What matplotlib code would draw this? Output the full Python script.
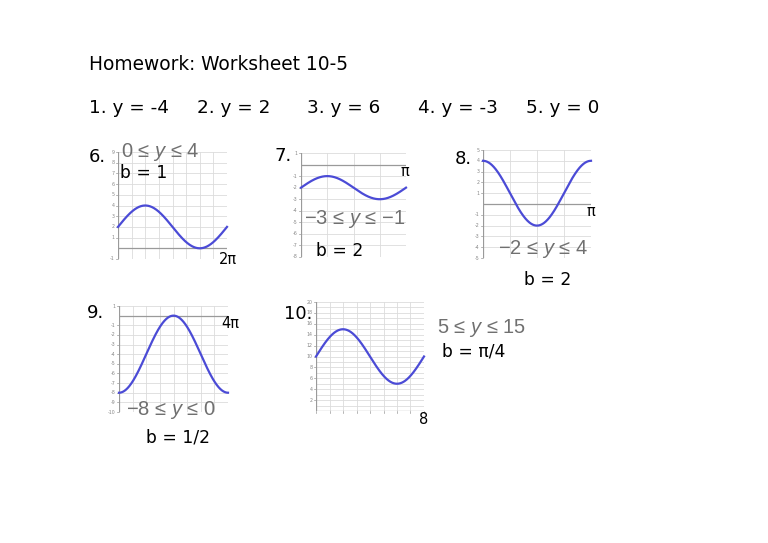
import numpy as np
import matplotlib
matplotlib.use('Agg')
import matplotlib.pyplot as plt

plt.rcParams['mathtext.fontset'] = 'custom'
plt.rcParams['mathtext.it'] = 'Liberation Sans:italic'
plt.rcParams['mathtext.rm'] = 'Liberation Sans'

# ---- data ----
title = "Homework: Worksheet 10-5"
answers = ["1. y = -4", "2. y = 2", "3. y = 6", "4. y = -3", "5. y = 0"]
answer_x = [89, 197, 307, 418, 526]

problems = ["6.", "7.", "8.", "9.", "10."]
y_min_vals = [0, -3, -2, -8, 5]
y_max_vals = [4, -1, 4, 0, 15]
b_vals = [1, 2, 2, 0.5, np.pi / 4]
wave_kind = ["sin", "sin", "cos", "-cos", "sin"]
x_end = [2 * np.pi, np.pi, np.pi, 4 * np.pi, 8]
x_end_labels = ["2π", "π", "π", "4π", "8"]
x_divisions = [8, 4, 4, 8, 8]
y_limits = [(-1, 9), (-8, 1), (-5, 5), (-10, 1), (0, 20)]
y_label_step = [1, 1, 1, 1, 2]
range_labels = ["0 ≤ $y$ ≤ 4", "−3 ≤ $y$ ≤ −1", "−2 ≤ $y$ ≤ 4",
                "−8 ≤ $y$ ≤ 0", "5 ≤ $y$ ≤ 15"]
b_labels = ["b = 1", "b = 2", "b = 2", "b = 1/2", "b = π/4"]

# ---- layout (pixels) ----
W, H = 768, 543
axes_px = [(118, 227, 152, 259), (301, 406, 153, 257), (483, 591, 150, 258),
           (119, 228, 306, 412), (316, 424, 302, 411)]
num_pos = [(89, 157), (274, 156), (455, 159), (87, 313), (284, 314)]
range_pos = [(121, 152), (304, 219), (498, 249), (126, 410), (437, 328)]
b_pos = [(120, 173), (316, 251), (524, 280), (146, 437), (442, 352)]
xend_pos = [(228, 260), (405, 171), (591, 212), (230, 324), (424, 419)]

fig = plt.figure(figsize=(7.68, 5.43), dpi=100)
fig.patch.set_facecolor('white')

def fx(x):
    return x / W

def fy(y):
    return 1 - y / H

TXT = 'DejaVu Sans'
fig.text(fx(89), fy(65), title, fontsize=13.4, family=TXT, va='center', ha='left')
for a, x in zip(answers, answer_x):
    fig.text(fx(x), fy(108), a, fontsize=13.2, family=TXT, va='center', ha='left')

curve_color = '#4b4bd6'
grid_color = '#dcdcdc'
axis_color = '#9a9a9a'

for i in range(5):
    x0, x1, yt, yb = axes_px[i]
    ax = fig.add_axes([fx(x0), fy(yb), (x1 - x0) / W, (yb - yt) / H])
    ax.set_xlim(0, x_end[i])
    lo, hi = y_limits[i]
    ax.set_ylim(lo, hi)
    for s in ax.spines.values():
        s.set_visible(False)
    ax.set_xticks([])
    ax.set_yticks([])
    # grid
    for k in range(x_divisions[i] + 1):
        ax.axvline(x_end[i] * k / x_divisions[i], color=grid_color, lw=0.6, zorder=1)
    for v in range(lo, hi + 1):
        ax.axhline(v, color=grid_color, lw=0.6, zorder=1)
    # axes
    ax.axhline(0, color=axis_color, lw=0.9, zorder=2)
    ax.axvline(0, color=axis_color, lw=0.9, zorder=2)
    # y tick labels
    for v in range(lo, hi + 1):
        if v == 0 or v % y_label_step[i] != 0:
            continue
        ax.plot([-x_end[i] * 0.02, 0], [v, v], color=axis_color, lw=0.5, clip_on=False)
        ax.text(-x_end[i] * 0.03, v, str(v), fontsize=3.4,
                color='#888888', ha='right', va='center', clip_on=False)
    if i == 4:
        for k in range(x_divisions[i] + 1):
            ax.plot([k, k], [0, -0.4], color=axis_color, lw=0.5, clip_on=False)
    # curve
    mid = (y_min_vals[i] + y_max_vals[i]) / 2
    amp = (y_max_vals[i] - y_min_vals[i]) / 2
    t = np.linspace(0, x_end[i], 400)
    if wave_kind[i] == "sin":
        y = mid + amp * np.sin(b_vals[i] * t)
    elif wave_kind[i] == "cos":
        y = mid + amp * np.cos(b_vals[i] * t)
    else:
        y = mid - amp * np.cos(b_vals[i] * t)
    ax.plot(t, y, color=curve_color, lw=1.6, zorder=3, clip_on=False)

    fig.text(fx(num_pos[i][0]), fy(num_pos[i][1]), problems[i], fontsize=13,
             family=TXT, va='center', ha='left')
    fig.text(fx(range_pos[i][0]), fy(range_pos[i][1]), range_labels[i], fontsize=14.5,
             family='Liberation Sans', color='#707070', va='center', ha='left')
    fig.text(fx(b_pos[i][0]), fy(b_pos[i][1]), b_labels[i], fontsize=12.3,
             family=TXT, va='center', ha='left')
    fig.text(fx(xend_pos[i][0]), fy(xend_pos[i][1]), x_end_labels[i], fontsize=10.5,
             family=TXT, va='center', ha='center')

fig.savefig('out.png', dpi=100, facecolor='white')
